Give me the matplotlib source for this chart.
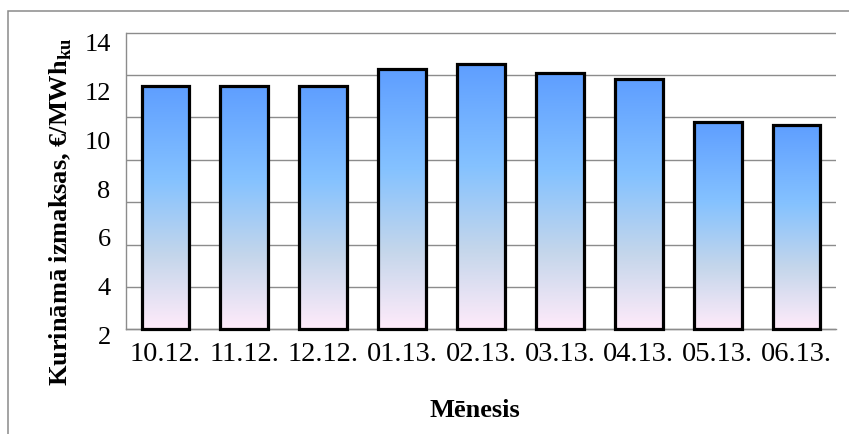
import numpy as np
import matplotlib
matplotlib.use("Agg")
import matplotlib.pyplot as plt
from matplotlib.colors import LinearSegmentedColormap
from matplotlib.patches import Rectangle

# Monthly fuel costs (EUR per MWh of heat), plotted against the gridline scale
months = ["10.12.", "11.12.", "12.12.", "01.13.", "02.13.",
          "03.13.", "04.13.", "05.13.", "06.13."]
costs = [11.49, 11.49, 11.49, 12.27, 12.54, 12.08, 11.83, 9.80, 9.65]

# Printed axis labels and the gridline levels of the value axis
tick_labels = [2, 4, 6, 8, 10, 12, 14]
grid_levels = [0, 2, 4, 6, 8, 10, 12, 14]

plt.rcParams["font.family"] = ["Liberation Serif", "DejaVu Serif"]
plt.rcParams["mathtext.fontset"] = "custom"
plt.rcParams["mathtext.rm"] = "Liberation Serif"
plt.rcParams["mathtext.bf"] = "Liberation Serif:bold"

FS = 18.5
FS_X = 20.5
DPI = 100
fig = plt.figure(figsize=(8.49, 4.34), dpi=DPI)
ax = fig.add_axes([0.1484, 0.2253, 0.8363, 0.7018])

# "Daybreak" style vertical gradient: blue at the top, pink at the base
cmap = LinearSegmentedColormap.from_list(
    "daybreak",
    [(0.0, "#FFEBFA"), (0.30, "#C4D6EB"), (0.61, "#85C2FF"), (1.0, "#5E9EFF")])
grad = np.linspace(0, 1, 256).reshape(-1, 1)

width = 0.605
x = np.arange(len(months))
bars = ax.bar(x, costs, width=width, facecolor="none", edgecolor="black",
              linewidth=2.3, zorder=3)
for b in bars:
    x0, y0 = b.get_x(), b.get_y()
    w, h = b.get_width(), b.get_height()
    im = ax.imshow(grad, cmap=cmap, origin="lower", aspect="auto",
                   extent=(x0, x0 + w, y0, y0 + h), zorder=2,
                   interpolation="bilinear")
    im.set_clip_path(b)
    b.set_joinstyle("miter")

ax.set_xlim(-0.5, len(months) - 0.5)
ax.set_ylim(-0.32, 14.05)

# Gridlines and axis lines
grey = "#8C8C8C"
ax.set_yticks(grid_levels)
ax.yaxis.grid(True, color=grey, linewidth=1.0)
ax.set_axisbelow(True)
ax.tick_params(axis="y", length=0, labelleft=False)
for side in ("top", "right"):
    ax.spines[side].set_visible(False)
ax.spines["left"].set_bounds(0, 14)
ax.spines["left"].set_color(grey)
ax.spines["left"].set_linewidth(1.0)
ax.spines["bottom"].set_position(("data", 0))
ax.spines["bottom"].set_color(grey)
ax.spines["bottom"].set_linewidth(1.0)

ax.set_xticks(x)
ax.set_xticklabels(months, fontsize=FS_X)
ax.tick_params(axis="x", length=0, pad=9)

# Printed value labels on their own evenly spaced scale
def to_label(v):
    return 2 + (np.asarray(v) + 0.283) / 1.1505

def from_label(l):
    return (np.asarray(l) - 2) * 1.1505 - 0.283

sec = ax.secondary_yaxis("left", functions=(to_label, from_label))
sec.set_yticks(tick_labels)
sec.set_yticklabels([str(t) for t in tick_labels], fontsize=FS + 0.5)
sec.tick_params(length=0, pad=11)
sec.spines["left"].set_visible(False)

ax.set_ylabel(r"Kurināmā izmaksas, €/MWh$_{\mathbf{ku}}$",
              fontsize=FS + 0.5, fontweight="bold")
ax.yaxis.label.set_va("center")
ax.yaxis.set_label_coords(-0.092, 0.41)

ax.set_xlabel("Mēnesis", fontsize=FS + 0.5, fontweight="bold")
ax.xaxis.label.set_va("center")
ax.xaxis.set_label_coords(0.4915, -0.245)

# Chart-area frame
fig.patches.append(Rectangle((7.5 / 849, -0.2), 1.2, 1.2 - 11.5 / 434,
                             transform=fig.transFigure, fill=False,
                             edgecolor="#8A8A8A", linewidth=1.1))

fig.savefig("out.png", dpi=DPI)
